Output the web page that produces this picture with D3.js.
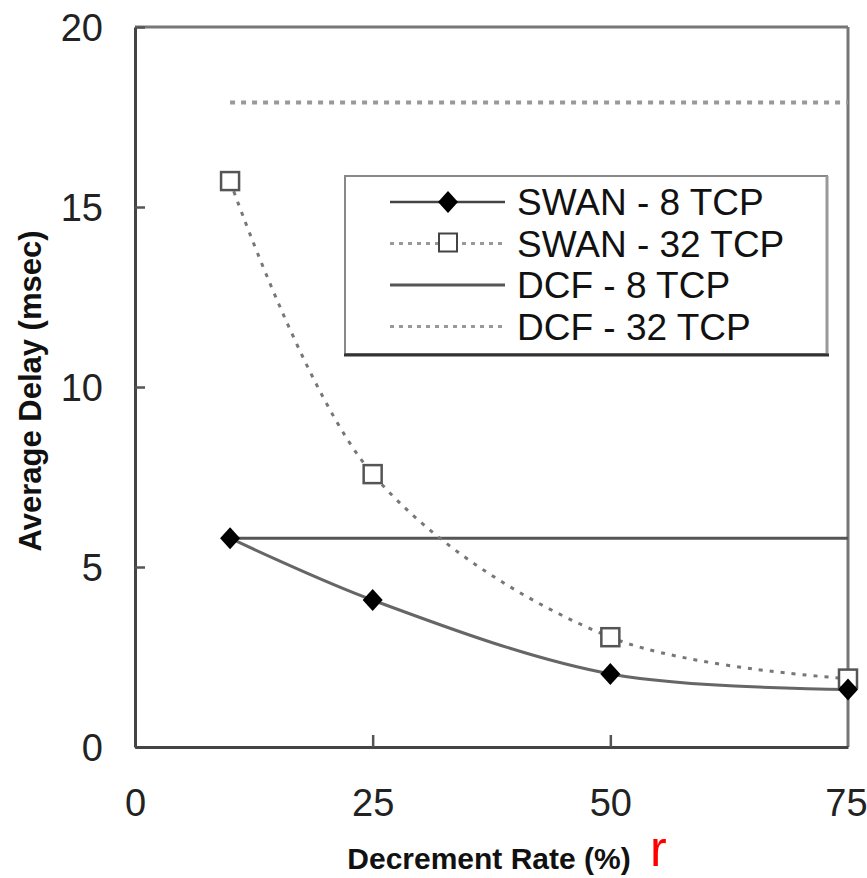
<!DOCTYPE html>
<html><head><meta charset="utf-8">
<script src="https://cdn.jsdelivr.net/npm/d3@7"></script>
<style>body{margin:0;background:#fff}svg{display:block}text{font-family:"Liberation Sans",Arial,sans-serif}</style>
</head><body>
<svg id="c" width="867" height="878"></svg>
<script>
const rates = [10, 25, 50, 75];
const swan8 = [5.8, 4.08, 2.03, 1.6];
const swan32 = [15.72, 7.58, 3.05, 1.9];
const dcf8 = [5.8, 5.8];
const dcf32 = [17.9, 17.9];
const dcfRates = [10, 75];
const xTicks = [0, 25, 50, 75];
const yTicks = [0, 5, 10, 15, 20];
const legendLabels = ["SWAN - 8 TCP", "SWAN - 32 TCP", "DCF - 8 TCP", "DCF - 32 TCP"];

const svg = d3.select("#c");
const x = d3.scaleLinear().domain([0, 75]).range([135, 848]);
const y = d3.scaleLinear().domain([0, 20]).range([747, 27]);

// frame: top & right (gray)
svg.append("line").attr("x1",135).attr("x2",848).attr("y1",27).attr("y2",27).attr("stroke","#777").attr("stroke-width",3);
svg.append("line").attr("x1",848).attr("x2",848).attr("y1",27).attr("y2",747).attr("stroke","#777").attr("stroke-width",3);

// axes
const yAxis = d3.axisLeft(y).tickValues(yTicks).tickSize(-10).tickPadding(32).tickSizeOuter(0);
const gy = svg.append("g").attr("transform","translate(135,0)").call(yAxis);
gy.select(".domain").attr("stroke","#444").attr("stroke-width",3);
gy.selectAll(".tick line").attr("stroke","#555").attr("stroke-width",2.5);
gy.selectAll(".tick text").attr("font-size",38).attr("fill","#222").attr("dy","0.35em")
  .attr("font-family","'Liberation Sans',Arial,sans-serif");

const xAxis = d3.axisBottom(x).tickValues(xTicks).tickSize(-12).tickPadding(42).tickSizeOuter(0);
const gx = svg.append("g").attr("transform","translate(0,747)").call(xAxis);
gx.select(".domain").attr("stroke","#444").attr("stroke-width",3);
gx.selectAll(".tick line").attr("stroke","#555").attr("stroke-width",2.5);
gx.selectAll(".tick line").filter(d => d===0 || d===75).remove();
gx.selectAll(".tick text").attr("font-size",38).attr("fill","#222")
  .attr("font-family","'Liberation Sans',Arial,sans-serif");
gx.selectAll(".tick text").filter(d => d===75).attr("dx", -2);

// axis titles
svg.append("text").attr("transform","translate(41,391) rotate(-90)").attr("text-anchor","middle")
  .attr("font-size",31).attr("font-weight","bold").attr("fill","#111").text("Average Delay (msec)");
svg.append("text").attr("x",489).attr("y",869).attr("text-anchor","middle")
  .attr("font-size",30).attr("font-weight","bold").attr("fill","#111").text("Decrement Rate (%)");
svg.append("text").attr("x",650).attr("y",866).attr("font-size",50).attr("fill","#ff0000").text("r");

// DCF lines
const line = d3.line().x(d=>x(d[0])).y(d=>y(d[1]));
svg.append("path").attr("d", line(d3.zip(dcfRates, dcf32))).attr("fill","none")
  .attr("stroke","#999").attr("stroke-width",4).attr("stroke-dasharray","5,6");
svg.append("path").attr("d", line(d3.zip(dcfRates, dcf8))).attr("fill","none")
  .attr("stroke","#555").attr("stroke-width",3);

// SWAN lines
const curve = d3.line().x(d=>x(d[0])).y(d=>y(d[1])).curve(d3.curveCatmullRom.alpha(0.5));
svg.append("path").attr("d", curve(d3.zip(rates, swan32))).attr("fill","none")
  .attr("stroke","#777").attr("stroke-width",3).attr("stroke-dasharray","4,7");
svg.append("path").attr("d", curve(d3.zip(rates, swan8))).attr("fill","none")
  .attr("stroke","#666").attr("stroke-width",3);

const diamondPath = "M0,-11L10,0L0,11L-10,0Z";
svg.selectAll(".sq").data(d3.zip(rates, swan32)).enter().append("rect")
  .attr("x", d=>x(d[0])-9).attr("y", d=>y(d[1])-9).attr("width",18).attr("height",18)
  .attr("fill","#fff").attr("stroke","#555").attr("stroke-width",2.5);
svg.selectAll(".dm").data(d3.zip(rates, swan8)).enter().append("path")
  .attr("d", diamondPath).attr("transform", d=>`translate(${x(d[0])},${y(d[1])})`).attr("fill","#000");

// legend
const lg = svg.append("g");
lg.append("rect").attr("x",345).attr("y",176).attr("width",482).attr("height",178)
  .attr("fill","#fff").attr("stroke","#888").attr("stroke-width",2);
lg.append("line").attr("x1",827).attr("x2",827).attr("y1",176).attr("y2",355).attr("stroke","#999").attr("stroke-width",3);
lg.append("line").attr("x1",344).attr("x2",829).attr("y1",355).attr("y2",355).attr("stroke","#333").attr("stroke-width",3);
const rowsY = legendLabels.map((_, i) => 202 + i * 41.5);
const styles = [
  {stroke:"#444", w:2.5, dash:null},
  {stroke:"#999", w:3, dash:"4,5"},
  {stroke:"#555", w:3, dash:null},
  {stroke:"#999", w:3, dash:"4,5"}
];
legendLabels.forEach((lab, i) => {
  const yy = rowsY[i];
  lg.append("line").attr("x1",390).attr("x2",505).attr("y1",yy).attr("y2",yy)
    .attr("stroke",styles[i].stroke).attr("stroke-width",styles[i].w).attr("stroke-dasharray",styles[i].dash);
  if (i===0) lg.append("path").attr("d",diamondPath).attr("transform",`translate(448,${yy})`).attr("fill","#000");
  if (i===1) lg.append("rect").attr("x",439).attr("y",yy-10).attr("width",18).attr("height",18)
    .attr("fill","#fff").attr("stroke","#444").attr("stroke-width",2);
  lg.append("text").attr("x",517).attr("y",yy).attr("dy","0.36em").attr("font-size",37).attr("fill","#111").text(lab);
});
</script>
</body></html>
